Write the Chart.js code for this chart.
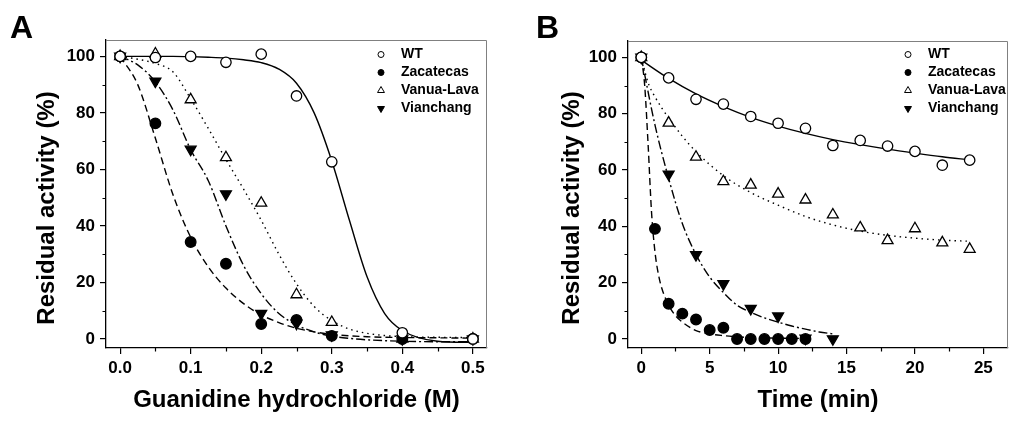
<!DOCTYPE html>
<html>
<head>
<meta charset="utf-8">
<script src="https://cdn.jsdelivr.net/npm/chart.js@4.4.1/dist/chart.umd.min.js"></script>
<style>
  html, body { margin: 0; padding: 0; background: #fff; }
  #wrap { position: relative; width: 1024px; height: 423px; }
  .panel { position: absolute; top: 0; width: 512px; height: 423px; }
</style>
</head>
<body>
<div id="wrap">
  <div class="panel" style="left:0"><canvas id="chartA" width="512" height="423"></canvas></div>
  <div class="panel" style="left:512px"><canvas id="chartB" width="512" height="423"></canvas></div>
</div>
<script>
// ---- panel A : guanidine hydrochloride (M) ----
const gdnConc = [0, 0.05, 0.1, 0.15, 0.2, 0.25, 0.3, 0.4, 0.5];
const gdnWT = [100, 99.6, 100, 97.9, 100.8, 86.0, 62.7, 2.2, 0];
const gdnZacatecas = [100, 76.3, 34.3, 26.6, 5.3, 6.7, 1.1, 0, 0];
const gdnVanuaLava = [100, 100.9, 84.7, 64.2, 48.1, 15.7, 5.9, 0, 0];
const gdnVianchang = [100, 91.2, 67.1, 51.3, 9.0, 5.5, 1.4, 0, 0];

// fitted curves
const gdnFitConc = [0, 0.025, 0.05, 0.075, 0.1, 0.125, 0.15, 0.175, 0.2, 0.225, 0.25, 0.275, 0.3, 0.325, 0.35, 0.375, 0.4, 0.45, 0.5];
const gdnFitWT = [100, 100, 100, 100, 99.9, 99.7, 99.4, 98.8, 97.8, 95.5, 90.5, 80, 63, 42, 22, 9, 3, -0.8, -1.2];
const gdnFitZacatecas = [100, 90, 71, 51, 36, 25.5, 18, 12.5, 8.5, 5.8, 3.8, 2.5, 1.6, 1.1, 0.8, 0.6, 0.5, 0.4, 0.3];
const gdnFitVanuaLava = [100, 99, 97.5, 94.5, 85, 74.5, 63.5, 53, 42, 30, 19.5, 11.5, 6.5, 3.5, 2, 1.2, 0.8, 0.6, 0.5];
const gdnFitVianchang = [100, 97, 91, 81, 67, 56, 40, 26, 16, 9, 5, 2.5, 1, 0.2, -0.3, -0.6, -0.8, -1, -1];

// ---- panel B : time (min) ----
const timeLong = [0, 2, 4, 6, 8, 10, 12, 14, 16, 18, 20, 22, 24];
const timeWT = [100, 92.7, 85.1, 83.4, 79.0, 76.6, 74.8, 68.7, 70.5, 68.5, 66.6, 61.7, 63.5];
const timeVanuaLava = [100, 76.7, 64.6, 55.9, 54.7, 51.5, 49.4, 44.1, 39.5, 35.0, 39.2, 34.2, 31.9];
const timeZac = [0, 1, 2, 3, 4, 5, 6, 7, 8, 9, 10, 11, 12];
const timeZacatecas = [100, 39.1, 12.5, 9.0, 6.9, 3.2, 4.0, 0, 0, 0, 0, 0, 0];
const timeVia = [0, 2, 4, 6, 8, 10, 12, 14];
const timeVianchang = [100, 58.5, 29.9, 19.6, 10.8, 8.1, 0.2, 0];

const fitTimeWT = [0, 2, 4, 6, 8, 10, 12, 14, 16, 18, 20, 22, 24];
const fitWT = [99, 92.5, 87, 82.5, 78.7, 75.6, 73, 70.8, 69, 67.4, 66, 64.7, 63.6];
const fitTimeVanua = [0, 0.5, 1, 1.5, 2, 3, 4, 6, 8, 10, 12, 14, 16, 18, 20, 22, 24];
const fitVanuaLava = [100, 91, 86, 82, 78.5, 72, 66.5, 58, 52, 47.5, 43.5, 40.5, 38.3, 36.8, 35.8, 35.1, 34.7];
const fitTimeZac = [0, 0.25, 0.5, 0.75, 1, 1.25, 1.5, 2, 2.5, 3, 4, 5, 6, 7, 8, 10, 12];
const fitZacatecas = [100, 90, 69, 45, 31, 23, 18, 12, 8.3, 6, 3, 1.8, 1.2, 0.8, 0.5, 0.3, 0.2];
const fitTimeVia = [0, 1, 2, 3, 4, 5, 6, 7, 8, 9, 10, 11, 12, 13, 14];
const fitVianchang = [100, 76, 57, 41, 30, 22, 16.5, 12, 9.5, 7.5, 6, 4.6, 3.5, 2.5, 1.8];

// axis ticks
const yMajor = [0, 20, 40, 60, 80, 100];
const yMinor = [10, 30, 50, 70, 90];
const gdnMinor = [0.05, 0.15, 0.25, 0.35, 0.45];
const timeMinor = [2.5, 7.5, 12.5, 17.5, 22.5];

const FONT = "'Liberation Sans', Arial, sans-serif";

const styles = {
  'WT': { shape: 'circle', fill: '#fff', r: 5.2, rot: 0 },
  'Zacatecas': { shape: 'circle', fill: '#000', r: 5.3, rot: 0 },
  'Vanua-Lava': { shape: 'triangle', fill: '#fff', r: 6.3, rot: 0 },
  'Vianchang': { shape: 'triangle', fill: '#000', r: 6.3, rot: 180 }
};

function points(label, xs, ys) {
  const s = styles[label];
  return {
    label: label,
    data: xs.map((x, i) => ({ x: x, y: ys[i] })),
    showLine: false,
    pointStyle: s.shape,
    pointRotation: s.rot,
    pointRadius: s.r,
    pointBackgroundColor: s.fill,
    pointBorderColor: '#000',
    pointBorderWidth: 1.3
  };
}

function fitLine(xs, ys, dash) {
  return {
    label: '',
    data: xs.map((x, i) => ({ x: x, y: ys[i] })),
    showLine: true,
    pointRadius: 0,
    borderColor: '#000',
    borderWidth: 1.4,
    borderDash: dash,
    cubicInterpolationMode: 'monotone',
    fill: false
  };
}

const SOLID = [], DASH = [7, 4], DOT = [1.5, 4], DASHDOT = [9, 3, 2, 3];

// small legend marker, same look as the data markers but smaller
function marker(ctx, label, x, y) {
  const s = styles[label];
  ctx.save();
  ctx.fillStyle = s.fill;
  ctx.strokeStyle = '#000';
  ctx.lineWidth = 1;
  ctx.beginPath();
  if (s.shape === 'circle') {
    ctx.arc(x, y, 3, 0, Math.PI * 2);
  } else {
    const r = 4, dir = s.rot ? -1 : 1;
    for (let k = 0; k < 3; k++) {
      const a = -Math.PI / 2 + k * 2 * Math.PI / 3;
      const px = x + r * Math.cos(a), py = y + dir * r * Math.sin(a);
      if (k === 0) ctx.moveTo(px, py); else ctx.lineTo(px, py);
    }
    ctx.closePath();
  }
  ctx.fill();
  ctx.stroke();
  ctx.restore();
}

const extras = {
  id: 'extras',
  afterDraw(chart, args, opts) {
    const { ctx, chartArea: a, scales: { x, y } } = chart;
    ctx.save();
    // top/right frame
    ctx.strokeStyle = '#808080';
    ctx.lineWidth = 1;
    ctx.beginPath();
    ctx.moveTo(a.left, a.top + 0.5);
    ctx.lineTo(a.right - 0.5, a.top + 0.5);
    ctx.lineTo(a.right - 0.5, a.bottom);
    ctx.stroke();
    // minor ticks
    ctx.strokeStyle = '#000';
    ctx.lineWidth = 1.2;
    ctx.beginPath();
    opts.xMinor.forEach(v => {
      const px = Math.round(x.getPixelForValue(v)) + 0.5;
      ctx.moveTo(px, a.bottom);
      ctx.lineTo(px, a.bottom + 3.5);
    });
    yMinor.forEach(v => {
      const py = Math.round(y.getPixelForValue(v)) + 0.5;
      ctx.moveTo(a.left, py);
      ctx.lineTo(a.left - 3.5, py);
    });
    ctx.stroke();
    // legend
    ctx.font = 'bold 14px ' + FONT;
    ctx.fillStyle = '#000';
    ctx.textBaseline = 'middle';
    ctx.textAlign = 'left';
    opts.names.forEach((n, i) => {
      const ly = opts.legendY + i * opts.legendDy;
      marker(ctx, n, opts.markerX, ly);
      ctx.fillStyle = '#000';
      ctx.fillText(n, opts.textX, ly);
    });
    // y axis title
    ctx.save();
    ctx.translate(opts.yTitleX, 208);
    ctx.rotate(-Math.PI / 2);
    ctx.font = 'bold 24px ' + FONT;
    ctx.textAlign = 'center';
    ctx.textBaseline = 'middle';
    ctx.fillText('Residual activity (%)', 0, 0);
    ctx.restore();
    // panel letter
    ctx.font = 'bold 32px ' + FONT;
    ctx.textAlign = 'left';
    ctx.textBaseline = 'alphabetic';
    ctx.fillText(opts.letter, opts.letterX, 38);
    ctx.restore();
  }
};

const names = ['WT', 'Zacatecas', 'Vanua-Lava', 'Vianchang'];

function makeChart(id, cfg) {
  return new Chart(document.getElementById(id), {
    type: 'scatter',
    data: { datasets: cfg.datasets },
    options: {
      responsive: false,
      animation: false,
      events: [],
      layout: { padding: { top: cfg.top, right: cfg.right, left: 0, bottom: 0 } },
      plugins: {
        legend: { display: false },
        tooltip: { enabled: false },
        extras: {
          xMinor: cfg.xMinor, names: names,
          markerX: cfg.markerX, textX: cfg.textX, legendY: 54.5, legendDy: 18,
          letter: cfg.letter, letterX: cfg.letterX, yTitleX: cfg.yTitleX
        }
      },
      scales: {
        x: {
          type: 'linear',
          min: cfg.xMin, max: cfg.xMax,
          afterFit: s => { s.height = 75; },
          border: { display: true, color: '#000', width: 1.3 },
          grid: { drawOnChartArea: false, drawTicks: true, tickLength: 6, color: '#000', lineWidth: 1.2 },
          ticks: {
            stepSize: cfg.xStep, includeBounds: false, padding: 4,
            color: '#000', font: { family: FONT, size: 17, weight: 'bold' },
            callback: cfg.xFmt, maxRotation: 0
          },
          title: {
            display: true, text: cfg.xTitle, color: '#000',
            font: { family: FONT, size: 24, weight: 'bold' },
            padding: { top: 0, bottom: 8.6 }
          }
        },
        y: {
          type: 'linear',
          min: -3.2, max: 105.8,
          afterFit: s => { s.width = cfg.yWidth; },
          border: { display: true, color: '#000', width: 1.3 },
          grid: { drawOnChartArea: false, drawTicks: true, tickLength: 6, color: '#000', lineWidth: 1.2 },
          ticks: {
            stepSize: 20, includeBounds: false, padding: 5,
            color: '#000', font: { family: FONT, size: 17, weight: 'bold' },
            callback: v => (yMajor.includes(v) ? v : '')
          }
        }
      }
    },
    plugins: [extras]
  });
}

makeChart('chartA', {
  datasets: [
    points('WT', gdnConc, gdnWT),
    points('Zacatecas', gdnConc, gdnZacatecas),
    points('Vanua-Lava', gdnConc, gdnVanuaLava),
    points('Vianchang', gdnConc, gdnVianchang),
    fitLine(gdnFitConc, gdnFitWT, SOLID),
    fitLine(gdnFitConc, gdnFitZacatecas, DASH),
    fitLine(gdnFitConc, gdnFitVanuaLava, DOT),
    fitLine(gdnFitConc, gdnFitVianchang, DASHDOT)
  ],
  top: 40, right: 25, yWidth: 106, yTitleX: 47,
  xMin: -0.02, xMax: 0.52, xStep: 0.1, xMinor: gdnMinor,
  xFmt: v => Number(v).toFixed(1),
  xTitle: 'Guanidine hydrochloride (M)',
  markerX: 381, textX: 401, letter: 'A', letterX: 10
});

makeChart('chartB', {
  datasets: [
    points('WT', timeLong, timeWT),
    points('Zacatecas', timeZac, timeZacatecas),
    points('Vanua-Lava', timeLong, timeVanuaLava),
    points('Vianchang', timeVia, timeVianchang),
    fitLine(fitTimeWT, fitWT, SOLID),
    fitLine(fitTimeZac, fitZacatecas, DASH),
    fitLine(fitTimeVanua, fitVanuaLava, DOT),
    fitLine(fitTimeVia, fitVianchang, DASHDOT)
  ],
  top: 41, right: 16, yWidth: 116, yTitleX: 60,
  xMin: -0.97, xMax: 26.8, xStep: 5, xMinor: timeMinor,
  xFmt: v => v,
  xTitle: 'Time (min)',
  markerX: 396, textX: 416, letter: 'B', letterX: 24
});
</script>
</body>
</html>
